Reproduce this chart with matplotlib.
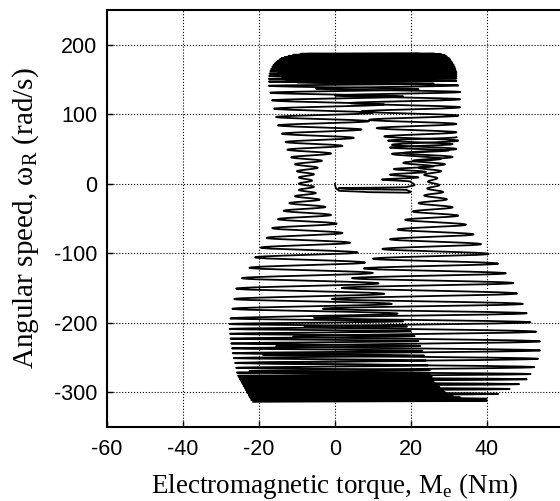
import numpy as np
import matplotlib.pyplot as plt

plt.rcParams['mathtext.fontset'] = 'custom'
plt.rcParams['mathtext.rm'] = 'Liberation Serif'
plt.rcParams['axes.unicode_minus'] = False

# Left-hand trajectory: speed at each left turn, torque at left / right turns
L_speed = [-314, -311.5, -309, -306.5, -304, -301.5, -299, -296.5, -294, -291.5, -289, -286.5, -284, -281.5, -279, -276.5,
           -272, -265, -258, -251, -244, -237, -230, -223, -216, -209, -202,
           -194, -180, -166, -151, -136, -121, -106, -92, -78, -64, -51, -39, -28, -18, -9, 0, 9, 18, 28, 38,
           49, 60, 72, 84, 96, 108, 120, 131, 141,
           147, 151, 155, 158.5, 162, 165, 168, 170.5, 173, 175, 177, 179, 181, 182.5, 184, 185.5, 187]
L_left = [-21.5, -22, -22.2, -22.5, -22.7, -23, -23.2, -23.5, -23.7, -24, -24.2, -24.5, -24.7, -25, -25.2, -25.5,
          -25.8, -26, -26.3, -26.6, -26.9, -27.1, -27.3, -27.5, -27.6, -27.7, -27.7,
          -27.5, -27, -26.5, -26, -24.5, -22.5, -21, -19.5, -18, -16.5, -15, -13.5, -12, -10.5, -9.5, -9.5, -9.5, -10, -10.5, -11.5,
          -12.5, -13, -14, -15, -15.5, -16, -16.6, -17, -17.4,
          -17.4, -17.4, -17.3, -17.2, -17, -16.8, -16.5, -16.2, -15.8, -15.4, -15, -14.5, -14, -13.2, -12.2, -11, -9]
L_right = [40, 36, 33, 31, 30, 29, 28.5, 28, 27.5, 27, 26.5, 26, 26, 25.5, 25.5, 25,
           25, 24.5, 24, 23.5, 23, 22.5, 22, 21, 20, 19, 18,
           16.5, 15, 13, 11.5, 10, 8, 6, 4, 2, 0.5, -1, -2.5, -4, -5, -5.5, -6, -5.5, -4.5, -3.4, -1,
           2, 5, 7, 9, 10, 13, 18, 22, 26,
           4, 12, 20, 28, 29, 29, 29.5, 29.5, 30, 30, 30, 29.5, 29, 28, 27, 25, 22]

# Right-hand trajectory
R_speed = [-313, -306, -299, -292, -285, -278,
           -270, -258, -246, -234, -220, -206,
           -193, -180, -166, -150, -136, -122, -108, -94, -80, -66, -52, -40, -28, -17, -7, 3, 13, 23, 33,
           44, 56, 68, 80, 92, 104, 116, 127, 137, 146,
           150, 153, 156, 159, 162, 164.5, 167, 169.5, 172, 174, 176, 178, 180, 182, 184, 185.5, 187]
R_left = [-21, -21.5, -22, -22.5, -23, -23,
          -22.5, -21, -19, -15.5, -11, -8,
          -5.5, -3.2, -0.8, 1.8, 4.5, 7.6, 10, 12.5, 14.5, 16.5, 18.5, 20.5, 22, 23.5, 24.3, 24.5, 23.5, 22, 20.5,
          18, 15, 13, 11, 9, 7, 4, 0, -5, -10,
          -13, -14, -14.5, -15, -15.5, -15.5, -15.5, -15.3, -15, -14.7, -14.3, -13.8, -13, -12, -11, -9.5, -7]
R_right = [40, 43, 46, 48.5, 50.5, 51.5,
           52.5, 53.5, 54, 54, 53, 51.5,
           50.5, 49.5, 48, 47, 45, 43, 40.5, 38.5, 36.5, 34.5, 32.5, 31, 29.5, 28.5, 27.5, 27, 28, 29, 31,
           32, 32.5, 32, 32, 32.5, 33, 33, 33, 32.5, 32,
           32, 32, 32, 32, 31.8, 31.7, 31.5, 31.3, 31, 30.8, 30.5, 30.3, 30, 29.5, 29, 28, 26]

# start-up transient near zero speed (turning points)
S_speed = [0, -6, -10, -12, -13, -12, -9, -7.5, -6.5, -5, -2, 3, 6, 9, 13, 17, 21, 25, 30, 36, 43, 48, 52, 57, 62, 67]
S_torque = [0, 0.2, 1, 8, 19.5, 20, 19, 3, 1, 19, 21, 20, 12.4, 22, 14.5, 24, 15.5, 26, 18, 28, 15, 30, 14.5, 31, 14, 32]


def turns(speed, left, right):
    # alternate left / right turning points, right turn halfway to next row
    ws, te = [], []
    for i in range(len(speed)):
        nxt = speed[i + 1] if i + 1 < len(speed) else speed[i] + 1
        ws += [speed[i], (speed[i] + nxt) / 2]
        te += [left[i], right[i]]
    return ws, te


def smooth(ws, te, n=14):
    # torque eases between turning points, speed moves linearly
    xs, ys = [], []
    t = np.linspace(0, 1, n, endpoint=False)
    s = (1 - np.cos(np.pi * t)) / 2
    for i in range(len(ws) - 1):
        ys.extend(ws[i] + (ws[i + 1] - ws[i]) * t)
        xs.extend(te[i] + (te[i + 1] - te[i]) * s)
    xs.append(te[-1])
    ys.append(ws[-1])
    return xs, ys


fig = plt.figure(figsize=(5.6, 5.01), dpi=100)
ax = fig.add_axes([0.191, 0.148, 0.814, 0.832])

for sp, le, ri in [(L_speed, L_left, L_right), (R_speed, R_left, R_right)]:
    x, y = smooth(*turns(sp, le, ri))
    ax.plot(x, y, 'k-', linewidth=1.3)
x, y = smooth(S_speed, S_torque)
ax.plot(x, y, 'k-', linewidth=1.3)

ax.set_xlim(-60, 60)
ax.set_ylim(-350, 250)
ax.set_xticks([-60, -40, -20, 0, 20, 40])
ax.set_yticks([-300, -200, -100, 0, 100, 200])
ax.grid(True, color='k', linestyle=':', linewidth=0.8)
for sp in ax.spines.values():
    sp.set_linewidth(1.5)
ax.tick_params(direction='in', length=4, width=1)
ax.tick_params(axis='x', pad=9)
ax.tick_params(axis='y', pad=7)
for lbl in ax.get_xticklabels() + ax.get_yticklabels():
    lbl.set_fontfamily('Liberation Sans')
    lbl.set_fontsize(15.5)

ax.set_xlabel('Electromagnetic torque, M$_\\mathrm{e}$ (Nm)', fontfamily='Liberation Serif', fontsize=19.5, labelpad=7.5)
ax.set_ylabel('Angular speed, ω$_\\mathrm{R}$ (rad/s)', fontfamily='Liberation Serif', fontsize=21, labelpad=9)

plt.savefig('out.png', dpi=100)
